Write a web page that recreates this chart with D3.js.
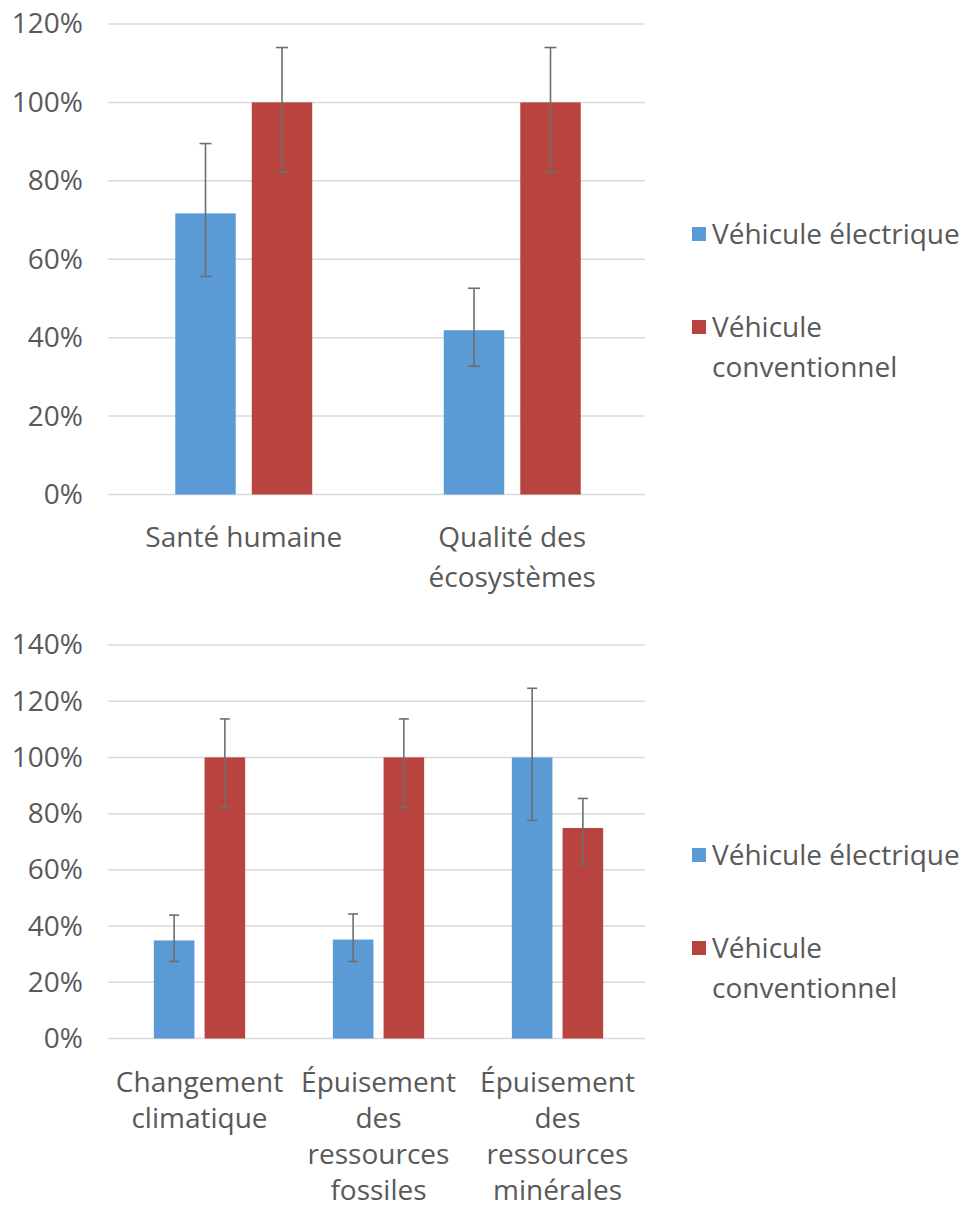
<!DOCTYPE html>
<html>
<head>
<meta charset="utf-8">
<script src="https://cdn.jsdelivr.net/npm/d3@7"></script>
<style>
  html, body { margin: 0; padding: 0; background: #ffffff; }
  svg text { font-family: "Open Sans", "Noto Sans", sans-serif; fill: #595959; }
</style>
</head>
<body>
<svg id="chart" width="971" height="1213"></svg>
<script>
// ---------- DATA ----------
const seriesNames = ["Véhicule électrique", "Véhicule conventionnel"];
const seriesColors = ["#5b9bd5", "#b8433f"];

// Top chart
const topCategories = [["Santé humaine"], ["Qualité des", "écosystèmes"]];
const topElec = [71.7, 41.9];
const topElecHigh = [89.5, 52.6];
const topElecLow = [55.6, 32.7];
const topConv = [100, 100];
const topConvHigh = [114, 114];
const topConvLow = [82.3, 82.3];
const topTicks = [0, 20, 40, 60, 80, 100, 120];

// Bottom chart
const bottomCategories = [["Changement", "climatique"], ["Épuisement", "des", "ressources", "fossiles"], ["Épuisement", "des", "ressources", "minérales"]];
const bottomElec = [34.9, 35.2, 100];
const bottomElecHigh = [43.9, 44.3, 124.6];
const bottomElecLow = [27.4, 27.4, 77.6];
const bottomConv = [100, 100, 74.9];
const bottomConvHigh = [113.7, 113.7, 85.4];
const bottomConvLow = [82.3, 82.3, 62.0];
const bottomTicks = [0, 20, 40, 60, 80, 100, 120, 140];

// ---------- DRAW ----------
const svg = d3.select("#chart");

function drawChart(cfg) {
  const g = svg.append("g");
  const y = d3.scaleLinear().domain([0, d3.max(cfg.ticks)]).range([cfg.bottom, cfg.top]);
  const keys = cfg.categories.map((c, i) => i);
  const x0 = d3.scaleBand().domain(keys).range([cfg.left, cfg.right])
    .paddingInner(0.49).paddingOuter(0.245);
  const x1 = d3.scaleBand().domain([0, 1]).range([0, x0.bandwidth()]).paddingInner(cfg.innerPad);

  // gridlines
  g.append("g").selectAll("line").data(cfg.ticks).join("line")
    .attr("x1", cfg.left).attr("x2", cfg.right)
    .attr("y1", d => y(d)).attr("y2", d => y(d))
    .attr("stroke", "#d9d9d9").attr("stroke-width", 1.5);

  // y axis labels
  const yAxis = d3.axisLeft(y).tickValues(cfg.ticks).tickFormat(d => d + "%").tickSize(0).tickPadding(0);
  const ya = g.append("g").attr("transform", `translate(${cfg.labelRight},0)`).call(yAxis);
  ya.select(".domain").remove();
  ya.selectAll("text").attr("font-size", cfg.fontSize).attr("fill", "#595959")
    .style("font-family", '"Open Sans", sans-serif');

  const values = [cfg.elec, cfg.conv];
  const highs = [cfg.elecHigh, cfg.convHigh];
  const lows = [cfg.elecLow, cfg.convLow];

  const rows = [];
  keys.forEach(i => [0, 1].forEach(s => rows.push({ i, s, v: values[s][i], hi: highs[s][i], lo: lows[s][i] })));

  g.append("g").selectAll("rect").data(rows).join("rect")
    .attr("x", d => x0(d.i) + x1(d.s) + cfg.shift)
    .attr("width", x1.bandwidth())
    .attr("y", d => y(d.v))
    .attr("height", d => y(0) - y(d.v))
    .attr("fill", d => seriesColors[d.s]);

  // error bars
  const eb = g.append("g").attr("stroke", "#6e6e6e").attr("stroke-width", 1.6).attr("fill", "none");
  rows.forEach(d => {
    const cx = x0(d.i) + x1(d.s) + x1.bandwidth() / 2 + cfg.shift;
    eb.append("line").attr("x1", cx).attr("x2", cx).attr("y1", y(d.hi)).attr("y2", y(d.lo));
    [d.hi, d.lo].forEach(v => {
      eb.append("line").attr("x1", cx - cfg.cap / 2).attr("x2", cx + cfg.cap / 2)
        .attr("y1", y(v)).attr("y2", y(v));
    });
  });

  // category labels
  keys.forEach(i => {
    const cx = x0(i) + x0.bandwidth() / 2 + cfg.shift;
    const t = g.append("text").attr("text-anchor", "middle").attr("font-size", cfg.fontSize)
      .attr("x", cx).attr("y", cfg.catBaseline);
    cfg.categories[i].forEach((line, k) => {
      t.append("tspan").attr("x", cx).attr("y", cfg.catBaseline + k * cfg.catLine).text(line);
    });
  });

  // legend
  const lg = g.append("g");
  seriesNames.forEach((name, s) => {
    const cy = cfg.legendY[s];
    lg.append("rect").attr("x", 692).attr("y", cy - 7).attr("width", 14).attr("height", 14)
      .attr("fill", seriesColors[s]);
    const words = s === 0 ? [name] : ["Véhicule", "conventionnel"];
    const t = lg.append("text").attr("font-size", cfg.fontSize).attr("x", 712).attr("y", cy + 10);
    words.forEach((w, k) => t.append("tspan").attr("x", 712).attr("y", cy + 10 + k * cfg.legendLine).text(w));
  });
}

drawChart({
  categories: topCategories, elec: topElec, elecHigh: topElecHigh, elecLow: topElecLow,
  conv: topConv, convHigh: topConvHigh, convLow: topConvLow, ticks: topTicks,
  top: 24, bottom: 494.5, left: 108, right: 645, labelRight: 83, innerPad: 0.21,
  cap: 12, fontSize: 28, catBaseline: 547, catLine: 40, shift: 1.5,
  legendY: [234, 327], legendLine: 40
});

drawChart({
  categories: bottomCategories, elec: bottomElec, elecHigh: bottomElecHigh, elecLow: bottomElecLow,
  conv: bottomConv, convHigh: bottomConvHigh, convLow: bottomConvLow, ticks: bottomTicks,
  top: 645, bottom: 1038.5, left: 108, right: 645, labelRight: 83, innerPad: 0.2,
  cap: 10, fontSize: 28, catBaseline: 1092, catLine: 36, shift: 2,
  legendY: [855, 948], legendLine: 40
});
</script>
</body>
</html>
